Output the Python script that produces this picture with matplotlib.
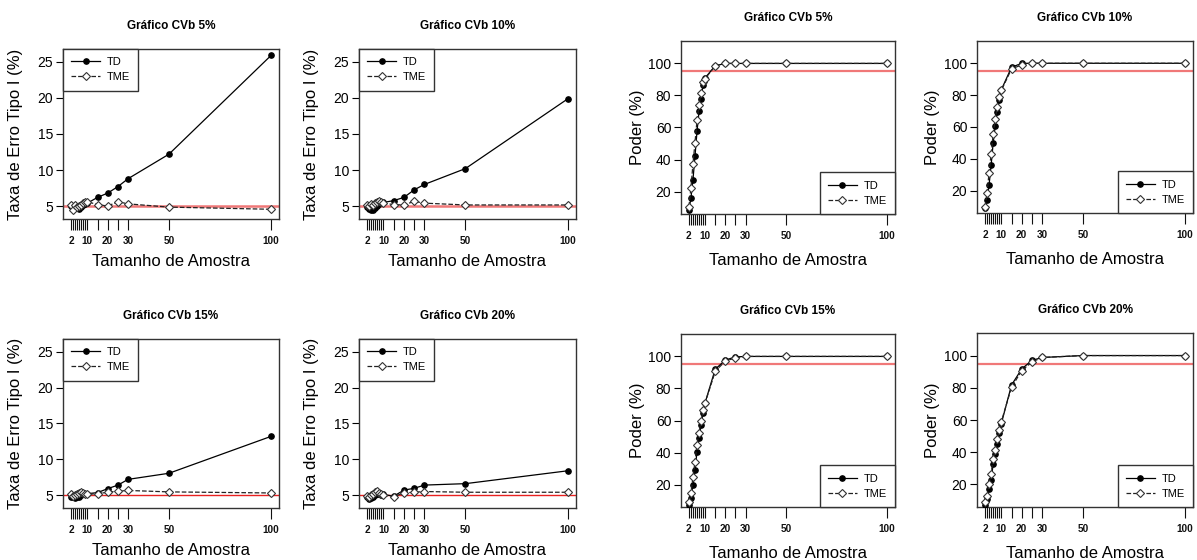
import numpy as np
import matplotlib.pyplot as plt

plt.rcParams['font.family'] = ['Liberation Sans', 'DejaVu Sans']

# tamanhos de amostra
n = [2, 3, 4, 5, 6, 7, 8, 9, 10, 15, 20, 25, 30, 50, 100]
xlab_ticks = [2, 10, 20, 30, 50, 100]

titulos = ['Gráfico CVb 5%', 'Gráfico CVb 10%', 'Gráfico CVb 15%', 'Gráfico CVb 20%']

# Taxa de erro tipo I (%)
erro_td_5 = [5.0, 4.8, 4.7, 5.0, 4.6, 4.9, 5.1, 5.3, 5.4, 6.2, 6.8, 7.7, 8.8, 12.2, 25.9]
erro_tme_5 = [5.2, 4.5, 5.1, 4.8, 5.0, 5.2, 5.4, 5.5, 5.6, 5.2, 5.0, 5.6, 5.3, 4.85, 4.55]
erro_td_10 = [4.8, 4.6, 4.5, 4.4, 4.7, 5.0, 5.3, 5.4, 5.5, 5.75, 6.2, 7.25, 8.0, 10.2, 19.9]
erro_tme_10 = [5.2, 5.0, 5.3, 5.1, 5.4, 5.6, 5.7, 5.5, 5.4, 5.2, 5.15, 5.65, 5.4, 5.15, 5.15]
erro_td_15 = [4.8, 4.7, 4.6, 4.7, 4.8, 5.0, 5.3, 5.2, 5.2, 5.35, 5.9, 6.4, 7.2, 8.05, 13.2]
erro_tme_15 = [5.1, 4.9, 5.0, 5.2, 5.3, 5.4, 5.3, 5.2, 5.1, 5.2, 5.4, 5.55, 5.65, 5.45, 5.3]
erro_td_20 = [4.8, 4.5, 4.6, 4.7, 5.0, 5.1, 5.2, 5.0, 5.1, 4.85, 5.7, 5.95, 6.4, 6.6, 8.4]
erro_tme_20 = [4.9, 4.8, 5.0, 5.2, 5.4, 5.6, 5.3, 5.2, 5.0, 4.8, 5.3, 5.4, 5.5, 5.4, 5.4]

# Poder (%)
poder_td_5 = [8.5, 16.0, 27.5, 42.0, 57.6, 70.0, 78.0, 86.6, 91.0, 98.5, 100, 100, 100, 100, 100]
poder_tme_5 = [10.6, 22.3, 37.3, 50.5, 64.5, 74.0, 81.8, 88.5, 90.5, 98.5, 100, 100, 100, 100, 100]
poder_td_10 = [9.0, 14.0, 23.7, 36.0, 50.0, 60.5, 69.5, 76.8, 83.4, 97.5, 100, 100, 100, 100, 100]
poder_tme_10 = [10.0, 18.5, 31.4, 43.0, 55.3, 65.0, 72.3, 78.9, 83.0, 96.5, 99.0, 100, 100, 100, 100]
poder_td_15 = [7.5, 11.6, 20.0, 28.8, 40.5, 48.8, 57.0, 64.9, 71.1, 92.0, 97.7, 99.7, 100, 100, 100]
poder_tme_15 = [9.0, 14.8, 24.6, 34.2, 45.0, 52.4, 59.7, 66.3, 71.0, 90.6, 97.2, 99.0, 100, 100, 100]
poder_td_20 = [7.3, 11.0, 17.3, 22.5, 32.9, 39.1, 45.4, 52.0, 57.8, 81.7, 91.7, 97.0, 98.8, 100, 100]
poder_tme_20 = [9.0, 13.0, 20.4, 26.7, 36.0, 41.3, 48.0, 53.8, 59.0, 80.3, 90.7, 96.0, 98.8, 100, 100]

erro_td = [erro_td_5, erro_td_10, erro_td_15, erro_td_20]
erro_tme = [erro_tme_5, erro_tme_10, erro_tme_15, erro_tme_20]
poder_td = [poder_td_5, poder_td_10, poder_td_15, poder_td_20]
poder_tme = [poder_tme_5, poder_tme_10, poder_tme_15, poder_tme_20]

W, H = 1197, 560
fig = plt.figure(figsize=(W / 100, H / 100), dpi=100)


def eixo(x0, y0, x1, y1):
    # caixa em pixels (esquerda, topo, direita, base)
    return fig.add_axes([x0 / W, 1 - y1 / H, (x1 - x0) / W, (y1 - y0) / H])


def painel(ax, td, tme, titulo, tipo, ref_cor, ref_lw):
    ax.plot(n, td, '-', color='black', lw=0.9, marker='o', ms=3.8, label='TD', zorder=3)
    ax.plot(n, tme, '--', color='#222222', lw=0.9, marker='D', ms=4.5, mfc='white',
            mec='#333333', mew=0.8, label='TME', zorder=3)
    ax.set_xlim(-1.92, 103.92)
    ax.set_xticks(n)
    ax.set_xticklabels([str(v) if v in xlab_ticks else '' for v in n],
                       fontsize=7.2, fontweight='bold')
    ax.tick_params(axis='x', length=8, width=0.8, pad=4, colors='#111111')
    ax.tick_params(axis='y', length=5, width=0.8, labelsize=10, pad=2)
    for s in ax.spines.values():
        s.set_color('#333333')
        s.set_linewidth(1.0)
    ax.set_title(titulo, fontsize=8.5, fontweight='bold', pad=14.5)
    ax.set_xlabel('Tamanho de Amostra', fontsize=12, va='top')
    if tipo == 'erro':
        ax.axhline(5, color=ref_cor, lw=ref_lw, zorder=2)
        ax.set_ylim(3.2, 26.8)
        ax.set_yticks([5, 10, 15, 20, 25])
        ax.set_ylabel('Taxa de Erro Tipo I (%)', fontsize=12)
        ax.yaxis.set_label_coords(-0.185, 0.5)
        ax.xaxis.set_label_coords(0.5, -0.205)
        loc = 'upper left'
    else:
        ax.axhline(95, color=ref_cor, lw=ref_lw, zorder=2)
        ax.set_ylim(6, 114)
        ax.set_yticks([20, 40, 60, 80, 100])
        ax.set_ylabel('Poder (%)', fontsize=12)
        ax.yaxis.set_label_coords(-0.17, 0.5)
        ax.xaxis.set_label_coords(0.5, -0.225)
        loc = 'lower right'
    leg = ax.legend(loc=loc, fontsize=8, frameon=True, fancybox=False,
                    edgecolor='#333333', framealpha=1, borderaxespad=0,
                    handlelength=2.6, borderpad=0.75, labelspacing=0.45,
                    handletextpad=0.6)
    leg.get_frame().set_linewidth(1.0)


# caixas dos eixos em pixels
caixas_erro = [(63, 49, 279, 219), (359, 49, 576, 219),
               (63, 339, 279, 508), (359, 339, 576, 508)]
caixas_poder = [(681, 41, 895, 214), (977, 41, 1193, 213),
                (681, 334, 895, 507), (977, 333, 1193, 507)]

for i in range(4):
    ax = eixo(*caixas_erro[i])
    if i < 2:
        painel(ax, erro_td[i], erro_tme[i], titulos[i], 'erro', '#f07878', 1.8)
    else:
        painel(ax, erro_td[i], erro_tme[i], titulos[i], 'erro', '#e8201f', 1.0)

for i in range(4):
    ax = eixo(*caixas_poder[i])
    painel(ax, poder_td[i], poder_tme[i], titulos[i], 'poder', '#f07878', 1.6)

fig.savefig('out.png', dpi=100)
